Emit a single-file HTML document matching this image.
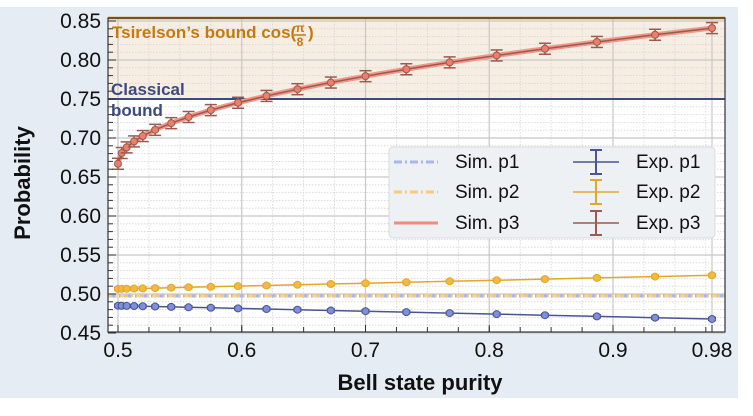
<!DOCTYPE html><html><head><style>
body{margin:0;background:#fff;width:753px;height:411px;overflow:hidden}
svg{font-family:"Liberation Sans",Arial,sans-serif}
</style></head><body>
<svg id="s" width="753" height="411" xmlns="http://www.w3.org/2000/svg">
<rect x="0" y="7" width="738" height="391" fill="#e6ecf3"/>
<rect x="108" y="18" width="617" height="314" fill="#fff"/>
<rect x="108" y="18" width="617" height="81" fill="#f6eee3"/>
<g id="grid"></g>
<line x1="108" x2="725" y1="18" y2="18" stroke="#c8841c" stroke-width="2.5"/>
<line x1="108" x2="725" y1="99" y2="99" stroke="#3d4a82" stroke-width="2"/>
<text x="112" y="38" font-size="17" font-weight="bold" fill="#c47a12">Tsirelson’s bound cos(</text>
<text x="300" y="32" font-size="12" font-weight="bold" fill="#c47a12" text-anchor="middle">π</text>
<line x1="294" x2="306" y1="35" y2="35" stroke="#c47a12" stroke-width="1.5"/>
<text x="300" y="46" font-size="12" font-weight="bold" fill="#c47a12" text-anchor="middle">8</text>
<text x="308" y="38" font-size="17" font-weight="bold" fill="#c47a12">)</text>
<text x="111" y="95" font-size="17" font-weight="bold" fill="#3d4a82">Classical</text>
<text x="111" y="116" font-size="17" font-weight="bold" fill="#3d4a82">bound</text>
<g id="data"></g>
<rect x="108" y="18" width="617" height="314" fill="none" stroke="#333" stroke-width="1.2"/>
<g id="ticks"></g>
<g font-size="20" fill="#111">
<text x="22" y="175" font-size="22" font-weight="bold" transform="rotate(-90 30 175)" text-anchor="middle">Probability</text>
<text x="420" y="390" font-size="22" font-weight="bold" text-anchor="middle">Bell state purity</text>
</g>
<g id="leg">
<rect x="389" y="147" width="326" height="91" rx="4" fill="#eef1f4" stroke="#d6dbe0"/>
<g font-size="19" fill="#111">
<text x="455" y="168">Sim. p1</text><text x="455" y="198">Sim. p2</text><text x="455" y="229">Sim. p3</text>
<text x="636" y="168">Exp. p1</text><text x="636" y="198">Exp. p2</text><text x="636" y="229">Exp. p3</text>
</g>
<line x1="394" x2="438" y1="162" y2="162" stroke="#a9b4f0" stroke-width="3" stroke-dasharray="8,3,2,3"/>
<line x1="394" x2="438" y1="192" y2="192" stroke="#fbc97a" stroke-width="3" stroke-dasharray="8,3,2,3"/>
<line x1="394" x2="438" y1="223" y2="223" stroke="#f08c7a" stroke-width="3"/>
<line x1="573" x2="619" y1="162" y2="162" stroke="#4a5590" stroke-width="1.5"/><line x1="596" x2="596" y1="150" y2="174" stroke="#4a5590" stroke-width="2"/><line x1="590" x2="602" y1="150" y2="150" stroke="#4a5590" stroke-width="2"/><line x1="590" x2="602" y1="174" y2="174" stroke="#4a5590" stroke-width="2"/>
<line x1="573" x2="619" y1="192" y2="192" stroke="#e0a828" stroke-width="1.5"/><line x1="596" x2="596" y1="180" y2="204" stroke="#e0a828" stroke-width="2"/><line x1="590" x2="602" y1="180" y2="180" stroke="#e0a828" stroke-width="2"/><line x1="590" x2="602" y1="204" y2="204" stroke="#e0a828" stroke-width="2"/>
<line x1="573" x2="619" y1="223" y2="223" stroke="#9a5a4e" stroke-width="1.5"/><line x1="596" x2="596" y1="211" y2="235" stroke="#9a5a4e" stroke-width="2"/><line x1="590" x2="602" y1="211" y2="211" stroke="#9a5a4e" stroke-width="2"/><line x1="590" x2="602" y1="235" y2="235" stroke="#9a5a4e" stroke-width="2"/>
</g>
</svg>
<script>
const NS="http://www.w3.org/2000/svg";
function X(v){return 118+(v-0.5)*1237.5}
function Y(v){return 333-(v-0.45)*780}
function el(p,t,a,txt){const e=document.createElementNS(NS,t);for(const k in a)e.setAttribute(k,a[k]);if(txt!==undefined)e.textContent=txt;p.appendChild(e);return e}
const g=document.getElementById('grid'),tk=document.getElementById('ticks'),d=document.getElementById('data');
for(let v=0.5;v<0.991;v+=0.025){const x=X(v);el(g,'line',{x1:x,x2:x,y1:18,y2:332,stroke:'#d4d4d4','stroke-width':0.8,'stroke-dasharray':'1.5,1.5'});el(tk,'line',{x1:x,x2:x,y1:332,y2:327,stroke:'#333'});}
for(let i=0;i<=40;i++){const v=0.45+i*0.01;const y=Y(v);if(y<18)break;el(g,'line',{x1:108,x2:725,y1:y,y2:y,stroke:'#d4d4d4','stroke-width':0.8,'stroke-dasharray':'1.5,1.5'});el(tk,'line',{x1:108,x2:113,y1:y,y2:y,stroke:'#333'});}
[0.5,0.6,0.7,0.8,0.9,0.98].forEach(v=>{const x=X(v);el(g,'line',{x1:x,x2:x,y1:18,y2:332,stroke:'#c8c8c8','stroke-width':1.2});el(tk,'line',{x1:x,x2:x,y1:332,y2:325,stroke:'#333'});el(tk,'text',{x:x,y:357,'font-size':21,'text-anchor':'middle',fill:'#111'},String(v));});
for(let i=0;i<=8;i++){const v=0.45+i*0.05;const y=Y(v);el(g,'line',{x1:108,x2:725,y1:y,y2:y,stroke:'#c8c8c8','stroke-width':1.2});el(tk,'line',{x1:108,x2:116,y1:y,y2:y,stroke:'#333'});el(tk,'text',{x:101,y:y+7,'font-size':21,'text-anchor':'end',fill:'#111'},v.toFixed(2));}
const xs=[0.5,0.503,0.507,0.513,0.52,0.53,0.543,0.557,0.575,0.597,0.62,0.645,0.672,0.70,0.733,0.768,0.806,0.845,0.887,0.934,0.98];
const p3=v=>0.667+0.251*Math.sqrt(v-0.5), p1=v=>0.485-0.017*(v-0.5)/0.48, p2=v=>0.5065+0.0175*(v-0.5)/0.48;
let pts=[];for(let v=0.5;v<=0.981;v+=0.002)pts.push(X(v)+','+Y(p3(v)));
el(d,'polyline',{points:pts.join(' '),fill:'none',stroke:'#f2978a','stroke-width':5});
el(d,'line',{x1:108,x2:725,y1:Y(0.4975),y2:Y(0.4975),stroke:'#a9b4f0','stroke-width':3,'stroke-dasharray':'8,3,2,3'});
el(d,'line',{x1:108,x2:725,y1:Y(0.4975),y2:Y(0.4975),stroke:'#fbc97a','stroke-width':3,'stroke-dasharray':'8,3,2,3','stroke-dashoffset':4,opacity:0.85});
function series(f,c,fill,err,cap){const P=xs.map(v=>X(v)+','+Y(f(v)));el(d,'polyline',{points:P.join(' '),fill:'none',stroke:c,'stroke-width':1.5});
xs.forEach(v=>{const x=X(v),y=Y(f(v));el(d,'line',{x1:x,x2:x,y1:y-err,y2:y+err,stroke:c,'stroke-width':1.5});el(d,'line',{x1:x-cap,x2:x+cap,y1:y-err,y2:y-err,stroke:c,'stroke-width':1.5});el(d,'line',{x1:x-cap,x2:x+cap,y1:y+err,y2:y+err,stroke:c,'stroke-width':1.5});el(d,'circle',{cx:x,cy:y,r:3.5,fill:fill,stroke:c,'stroke-width':1});});}
series(p1,'#4a5590','#7f8fe0',1.5,4);series(p2,'#e0a828','#f4b940',1.5,4);series(p3,'#9a5a4e','#ee7e6a',5.5,6);
</script>
</body></html>
